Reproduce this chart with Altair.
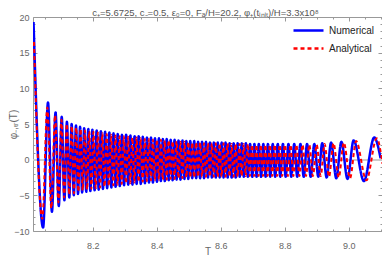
import altair as alt
import pandas as pd

# ---- data (extrema of each curve) ----
T_num = [8.0146, 8.0446, 8.0599, 8.0722, 8.0835, 8.0936, 8.1028, 8.1111, 8.1191, 8.1264,
         8.1338, 8.1405, 8.1473, 8.1537, 8.1602, 8.1666, 8.1730, 8.1795, 8.1859, 8.1923,
         8.1988, 8.2055, 8.2120, 8.2184, 8.2251, 8.2316, 8.2383, 8.2448, 8.2515, 8.2579,
         8.2647, 8.2711, 8.2779, 8.2843, 8.2910, 8.2975, 8.3042, 8.3107, 8.3174, 8.3238,
         8.3306, 8.3370, 8.3434, 8.3499, 8.3563, 8.3628, 8.3692, 8.3756, 8.3818, 8.3879,
         8.3943, 8.4005, 8.4066, 8.4127, 8.4189, 8.4250, 8.4311, 8.4372, 8.4434, 8.4495,
         8.4556, 8.4618, 8.4679, 8.4740, 8.4802, 8.4863, 8.4924, 8.4985, 8.5047, 8.5108,
         8.5169, 8.5231, 8.5292, 8.5353, 8.5415, 8.5476, 8.5537, 8.5598, 8.5660, 8.5721,
         8.5782, 8.5844, 8.5905, 8.5966, 8.6028, 8.6089, 8.6150, 8.6215, 8.6276, 8.6340,
         8.6402, 8.6466, 8.6527, 8.6592, 8.6656, 8.6720, 8.6785, 8.6849, 8.6916, 8.6984,
         8.7051, 8.7119, 8.7189, 8.7260, 8.7330, 8.7401, 8.7474, 8.7548, 8.7624, 8.7701,
         8.7781, 8.7860, 8.7943, 8.8029, 8.8115, 8.8204, 8.8296, 8.8391, 8.8489, 8.8593,
         8.8697, 8.8811, 8.8924, 8.9050, 8.9172, 8.9310, 8.9448, 8.9611, 8.9770, 8.9963,
         9.0153, 9.0475, 9.0797, 9.0996]
V_num = [19.3, -9.5, 8.0, -7.3, 6.6, -6.5, 6.0, -5.7, 5.3, -5.3,
         5.0, -5.0, 4.8, -4.8, 4.6, -4.6, 4.4, -4.5, 4.3, -4.4,
         4.2, -4.3, 4.1, -4.2, 4.0, -4.1, 3.9, -4.0, 3.8, -3.9,
         3.7, -3.8, 3.6, -3.7, 3.5, -3.6, 3.5, -3.5, 3.4, -3.5,
         3.3, -3.4, 3.3, -3.4, 3.2, -3.3, 3.1, -3.2, 3.1, -3.2,
         3.0, -3.1, 3.0, -3.0, 2.9, -3.0, 2.9, -2.9, 2.8, -2.9,
         2.8, -2.8, 2.7, -2.8, 2.7, -2.7, 2.6, -2.7, 2.6, -2.6,
         2.6, -2.6, 2.5, -2.6, 2.5, -2.6, 2.5, -2.5, 2.4, -2.5,
         2.4, -2.5, 2.4, -2.5, 2.4, -2.5, 2.4, -2.5, 2.3, -2.5,
         2.3, -2.5, 2.3, -2.4, 2.3, -2.4, 2.3, -2.4, 2.2, -2.4,
         2.2, -2.4, 2.2, -2.4, 2.2, -2.4, 2.2, -2.4, 2.2, -2.4,
         2.2, -2.4, 2.2, -2.4, 2.2, -2.4, 2.2, -2.4, 2.2, -2.4,
         2.2, -2.4, 2.2, -2.4, 2.3, -2.5, 2.4, -2.6, 2.5, -2.7,
         2.7, -3.0, 3.1, 0.2]

T_ana = [8.0161, 8.0421, 8.0578, 8.0703, 8.0820, 8.0924, 8.1019, 8.1105, 8.1188, 8.1264,
         8.1341, 8.1412, 8.1482, 8.1549, 8.1617, 8.1684, 8.1752, 8.1819, 8.1887, 8.1954,
         8.2021, 8.2092, 8.2159, 8.2227, 8.2297, 8.2365, 8.2435, 8.2503, 8.2573, 8.2641,
         8.2708, 8.2772, 8.2840, 8.2904, 8.2971, 8.3036, 8.3103, 8.3168, 8.3235, 8.3299,
         8.3367, 8.3431, 8.3495, 8.3560, 8.3624, 8.3689, 8.3753, 8.3817, 8.3879, 8.3940,
         8.4004, 8.4066, 8.4127, 8.4188, 8.4250, 8.4311, 8.4372, 8.4433, 8.4495, 8.4556,
         8.4617, 8.4679, 8.4740, 8.4801, 8.4863, 8.4924, 8.4985, 8.5046, 8.5108, 8.5169,
         8.5230, 8.5292, 8.5353, 8.5414, 8.5476, 8.5537, 8.5598, 8.5659, 8.5721, 8.5782,
         8.5843, 8.5905, 8.5966, 8.6027, 8.6089, 8.6150, 8.6211, 8.6276, 8.6337, 8.6401,
         8.6463, 8.6527, 8.6588, 8.6653, 8.6717, 8.6781, 8.6846, 8.6910, 8.6977, 8.7045,
         8.7112, 8.7180, 8.7250, 8.7321, 8.7391, 8.7462, 8.7535, 8.7609, 8.7685, 8.7762,
         8.7842, 8.7921, 8.8004, 8.8093, 8.8179, 8.8268, 8.8363, 8.8458, 8.8556, 8.8664,
         8.8768, 8.8881, 8.8998, 8.9123, 8.9246, 8.9384, 8.9525, 8.9687, 8.9847, 9.0040,
         9.0230, 9.0552, 9.0874, 9.1057]
V_ana = [16.5, -8.3, 7.3, -6.8, 6.2, -6.0, 5.6, -5.3, 5.0, -4.9,
         4.7, -4.7, 4.5, -4.5, 4.3, -4.3, 4.1, -4.2, 4.0, -4.1,
         3.9, -4.0, 3.8, -3.9, 3.7, -3.8, 3.6, -3.7, 3.5, -3.6,
         3.4, -3.5, 3.3, -3.4, 3.3, -3.3, 3.2, -3.3, 3.1, -3.2,
         3.1, -3.1, 3.0, -3.1, 2.9, -3.0, 2.9, -2.9, 2.8, -2.9,
         2.8, -2.8, 2.8, -2.8, 2.7, -2.8, 2.7, -2.7, 2.6, -2.7,
         2.6, -2.6, 2.5, -2.6, 2.5, -2.5, 2.5, -2.5, 2.4, -2.5,
         2.4, -2.4, 2.4, -2.4, 2.3, -2.4, 2.3, -2.4, 2.3, -2.4,
         2.3, -2.4, 2.3, -2.4, 2.3, -2.4, 2.3, -2.4, 2.2, -2.4,
         2.2, -2.4, 2.2, -2.3, 2.2, -2.3, 2.2, -2.3, 2.1, -2.3,
         2.1, -2.3, 2.1, -2.3, 2.1, -2.3, 2.1, -2.3, 2.1, -2.3,
         2.1, -2.3, 2.1, -2.3, 2.1, -2.3, 2.1, -2.3, 2.1, -2.3,
         2.1, -2.3, 2.1, -2.3, 2.2, -2.4, 2.3, -2.5, 2.4, -2.6,
         2.6, -2.9, 3.0, -0.6]

series_names = ["Numerical", "Analytical"]
series_colors = ["#0000ff", "#ff0000"]

x_major = [8.2, 8.4, 8.6, 8.8, 9.0]
x_minor = [8.05, 8.1, 8.15, 8.25, 8.3, 8.35, 8.45, 8.5, 8.55, 8.65, 8.7, 8.75,
           8.85, 8.9, 8.95, 9.05, 9.1]
y_major = [-10, -5, 0, 5, 10, 15, 20]
y_minor = [-9, -8, -7, -6, -4, -3, -2, -1, 1, 2, 3, 4, 6, 7, 8, 9,
           11, 12, 13, 14, 16, 17, 18, 19]

title_text = "c₊=5.6725, c₋=0.5, ε₀=0, Fₐ/H=20.2, φ₊(tᵢₙᵢₜ)/H=3.3x10⁸"
y_title = "φ₋,ₜᵣ(T)"
x_title = "T"

num = pd.DataFrame({"T": T_num, "v": V_num, "series": series_names[0]})
ana = pd.DataFrame({"T": T_ana, "v": V_ana, "series": series_names[1]})

xs = alt.Scale(domain=[8.013, 9.104], nice=False, zero=False)
ys = alt.Scale(domain=[-10, 20], nice=False, zero=False)

W, H = 349, 214
GRAY = "#999999"
LAB = "#666666"
FONT = "Liberation Sans"


def tick_axis(orient, values, size, **kw):
    base = dict(orient=orient, values=values, offset=-size, tickSize=size,
                domain=False, grid=False, tickColor=GRAY, tickWidth=1)
    base.update(kw)
    if "labels" not in base:
        base["labels"] = False
    if "title" not in base:
        base["title"] = None
    return alt.Axis(**base)


ax_bottom = tick_axis("bottom", x_major, 4, labels=True, format=".1f",
                      labelFont=FONT, labelFontSize=9, labelColor=LAB,
                      labelPadding=10, title=x_title, titleFont=FONT,
                      titleFontSize=10, titleFontWeight="normal",
                      titleColor=LAB, titleY=24, titleBaseline="middle")
ax_left = tick_axis("left", y_major, 4, labels=True, format="d",
                    labelFont=FONT, labelFontSize=9, labelColor=LAB,
                    labelPadding=4, title=y_title, titleFont=FONT,
                    titleFontSize=10, titleFontWeight="normal",
                    titleColor=LAB, titleX=-24, titleY=H / 2,
                    titleBaseline="middle", titleAlign="center", titleAngle=-90)

legend = alt.Legend(title=None, orient="none", legendX=268, legendY=6,
                    symbolType="M-2.5,0H2.5", symbolSize=144,
                    symbolStrokeWidth=2.5, labelFont=FONT,
                    labelFontSize=10, labelColor="#222222",
                    labelOffset=13, rowPadding=5, padding=0)

color_enc = alt.Color("series:N", scale=alt.Scale(domain=series_names, range=series_colors),
                      legend=legend)
dash_enc = alt.StrokeDash("series:N", scale=alt.Scale(domain=series_names, range=[[1, 0], [4, 3]]),
                          legend=legend)

zero_line = alt.Chart(num).mark_rule(color="#cccccc", strokeWidth=1).encode(
    y=alt.YDatum(0, scale=ys, axis=None)
)

blue = alt.Chart(num).mark_line(interpolate="monotone", strokeWidth=2.5, clip=True).encode(
    x=alt.X("T:Q", scale=xs, axis=ax_bottom),
    y=alt.Y("v:Q", scale=ys, axis=ax_left),
    color=color_enc,
    strokeDash=dash_enc,
)

red = alt.Chart(ana).mark_line(interpolate="monotone", strokeWidth=2.0, clip=True).encode(
    x=alt.X("T:Q", scale=xs, axis=tick_axis("bottom", x_minor, 2)),
    y=alt.Y("v:Q", scale=ys, axis=tick_axis("left", y_minor, 2)),
    color=color_enc,
    strokeDash=dash_enc,
)

frame_major = alt.Chart(num).mark_point(opacity=0).encode(
    x=alt.X("T:Q", scale=xs, axis=tick_axis("top", x_major, 4)),
    y=alt.Y("v:Q", scale=ys, axis=tick_axis("right", y_major, 4)),
)
frame_minor = alt.Chart(num).mark_point(opacity=0).encode(
    x=alt.X("T:Q", scale=xs, axis=tick_axis("top", x_minor, 2)),
    y=alt.Y("v:Q", scale=ys, axis=tick_axis("right", y_minor, 2)),
)

chart = alt.layer(zero_line, blue, red, frame_major, frame_minor).resolve_axis(
    x="independent", y="independent"
).properties(
    width=W, height=H,
    title=alt.TitleParams(text=title_text, font=FONT, fontSize=9.5, fontWeight="normal",
                          color="#555555", anchor="middle", offset=-4, dx=-2),
    autosize=alt.AutoSizeParams(type="none"),
    padding={"left": 25, "top": 9, "right": 0, "bottom": 25},
).configure_view(stroke=GRAY, strokeWidth=1)

chart.save("out.html", embed_options={"renderer": "svg", "actions": False})
